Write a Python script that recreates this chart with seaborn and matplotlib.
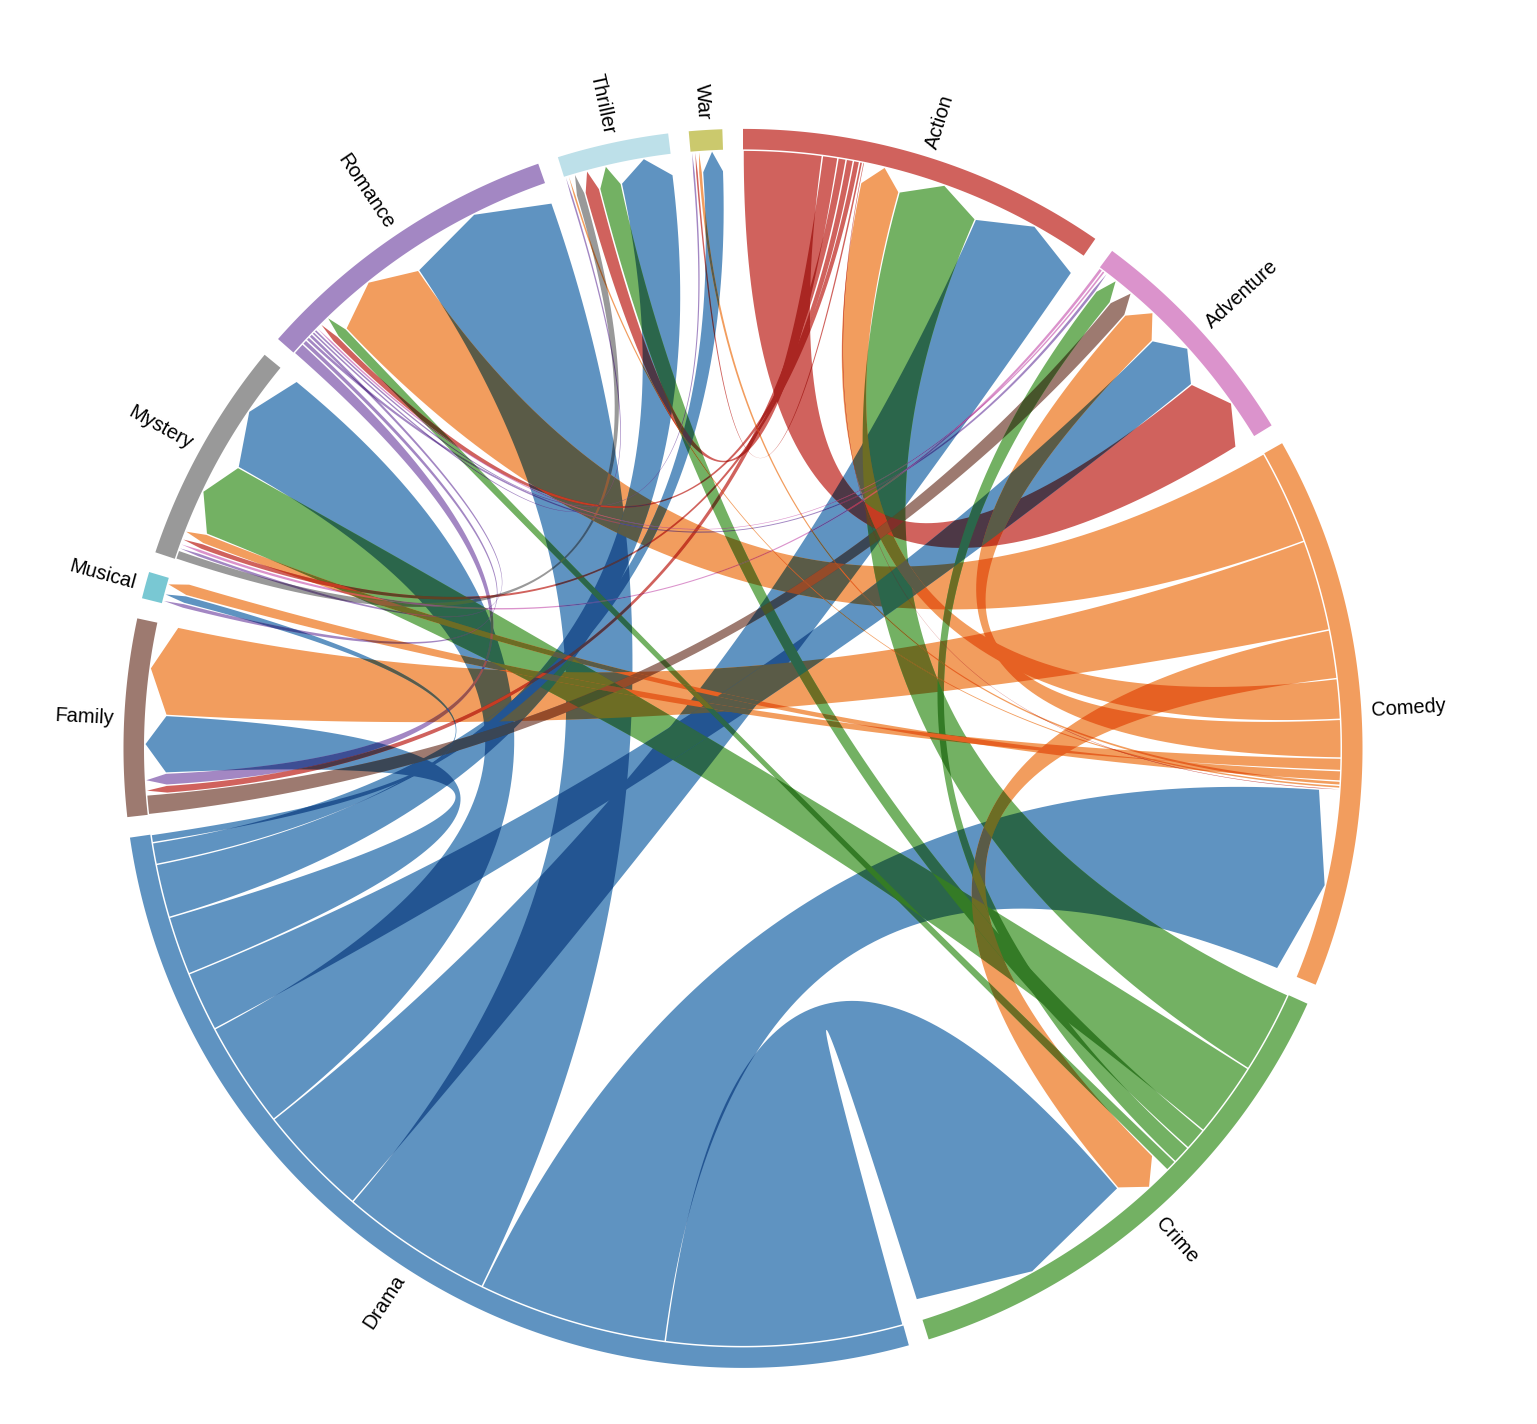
import numpy as np
import pandas as pd
import matplotlib
matplotlib.use("Agg")
import matplotlib.pyplot as plt
import seaborn as sns
from matplotlib.path import Path
from matplotlib.patches import PathPatch

# ---------------- data ----------------
genres = ["Action", "Adventure", "Comedy", "Crime", "Drama", "Family",
          "Musical", "Mystery", "Romance", "Thriller", "War"]
genre_colors = ["#d0625d", "#db93cc", "#f29d5e", "#73b163", "#5f93c1", "#9d7a70",
                "#79c8d3", "#999999", "#a387c3", "#bde0e9", "#cbc96d"]

flow_source = (["Action"] * 7 + ["Adventure"] * 2 + ["Comedy"] * 9 + ["Crime"] * 5
               + ["Drama"] * 10 + ["Family"] + ["Mystery"] + ["Romance"] * 6)
flow_target = ["Adventure", "Thriller", "Family", "Romance", "Mystery", "War", "Comedy",
               "Mystery", "Romance",
               "Romance", "Family", "Crime", "Action", "Adventure", "Musical", "Mystery", "War", "Thriller",
               "Action", "Mystery", "Thriller", "Adventure", "Romance",
               "Crime", "Comedy", "Romance", "Action", "Mystery", "Adventure", "Family", "Thriller", "War", "Musical",
               "Adventure",
               "Thriller",
               "Family", "Musical", "Adventure", "Mystery", "Thriller", "War"]
flow_value = [76, 15, 8, 7, 6, 3, 2,
              4, 3,
              92, 88, 47, 39, 37, 12, 10, 4, 3,
              80, 73, 22, 18, 11,
              229, 183, 148, 109, 103, 58, 57, 52, 21, 8,
              19,
              9,
              12, 5, 4, 4, 3, 3]

# ---------------- style ----------------
sns.set_theme(style="white")
plt.rcParams["font.family"] = ["Liberation Sans", "DejaVu Sans"]
palette = np.array(sns.color_palette(genre_colors))

flows = pd.DataFrame({"source": flow_source, "target": flow_target, "value": flow_value})
matrix = (flows.pivot_table(index="source", columns="target", values="value",
                            aggfunc="sum", fill_value=0)
          .reindex(index=genres, columns=genres, fill_value=0)
          .to_numpy(dtype=float))

n = len(genres)
W, H = 1537, 1424
CX, CY = 743.0, 748.4
R_IN, R_OUT = 599.0, 619.5
R_RIB = 597.5
HEAD = 20.0
PAD = 20.0 / 599.0
RIB_PAD = 1.5 / R_RIB
LABEL_R = R_OUT + 10
FONT_PX = 20

# ---------------- d3.chordDirected layout ----------------
group_sums = matrix.sum(axis=1) + matrix.sum(axis=0)
k = (2 * np.pi - PAD * n) / group_sums.sum()
groups, src_ang, tgt_ang = [], {}, {}
x = 0.0
for i in range(n):
    x0 = x
    sub = [j for j in range(-n, n) if (matrix[~j, i] if j < 0 else matrix[i, j]) > 0]
    sub.sort(key=lambda j: matrix[~j, i] if j < 0 else -matrix[i, j])
    for j in sub:
        if j < 0:
            v = matrix[~j, i]
            tgt_ang[(~j, i)] = (x, x + v * k)
        else:
            v = matrix[i, j]
            src_ang[(i, j)] = (x, x + v * k)
        x += v * k
    groups.append((x0, x))
    x += PAD

chords = sorted(src_ang.keys(), key=lambda st: -matrix[st])


def polar(r, a):
    a = np.atleast_1d(a)
    return np.column_stack([CX + r * np.sin(a), CY - r * np.cos(a)])


def quad(p0, c, p2, m=90):
    t = np.linspace(0, 1, m)[:, None]
    return (1 - t) ** 2 * p0 + 2 * (1 - t) * t * c + t ** 2 * p2


def shrink(a0, a1):
    ap = RIB_PAD / 2
    if a1 - a0 > 2 * ap:
        return a0 + ap, a1 - ap
    mid = (a0 + a1) / 2
    return mid, mid


def ribbon_path(sa0, sa1, ta0, ta1):
    sa0, sa1 = shrink(sa0, sa1)
    ta0, ta1 = shrink(ta0, ta1)
    m = max(2, int((sa1 - sa0) * R_RIB / 2) + 2)
    arc = polar(R_RIB, np.linspace(sa0, sa1, m))
    c = np.array([CX, CY])
    pt0 = polar(R_RIB - HEAD, ta0)[0]
    tip = polar(R_RIB, (ta0 + ta1) / 2)[0]
    pt1 = polar(R_RIB - HEAD, ta1)[0]
    c1 = quad(arc[-1], c, pt0)
    c2 = quad(pt1, c, arc[0])
    verts = np.vstack([arc, c1[1:], tip[None, :], c2[:-1], arc[:1]])
    return Path(verts, closed=True)


def annulus_path(a0, a1):
    a = np.linspace(a0, a1, 240)
    outer = polar(R_OUT, a)
    inner = polar(R_IN, a[::-1])
    verts = np.vstack([outer, inner, outer[:1]])
    return Path(verts, closed=True)


# ---------------- draw ----------------
fig = plt.figure(figsize=(W / 100, H / 100), dpi=100)
ax = fig.add_axes([0, 0, 1, 1])
ax.set_xlim(0, W)
ax.set_ylim(H, 0)
ax.axis("off")

for i, (a0, a1) in enumerate(groups):
    ax.add_patch(PathPatch(annulus_path(a0, a1), facecolor=palette[i], edgecolor="none",
                           linewidth=0, zorder=2))

# ribbons (mix-blend-mode: multiply emulated by drawing pairwise intersections)
rib_paths, rib_cols, rib_patches = [], [], []
for (s, t) in chords:
    sa0, sa1 = src_ang[(s, t)]
    ta0, ta1 = tgt_ang[(s, t)]
    p = ribbon_path(sa0, sa1, ta0, ta1)
    patch = PathPatch(p, facecolor=palette[s], edgecolor="none", linewidth=0, zorder=3)
    ax.add_patch(patch)
    rib_paths.append(p)
    rib_cols.append(palette[s])
    rib_patches.append(patch)

z = 4.0
for a in range(len(rib_paths)):
    for b in range(a + 1, len(rib_paths)):
        if rib_paths[a].intersects_path(rib_paths[b], filled=True):
            over = PathPatch(rib_paths[b], facecolor=rib_cols[a] * rib_cols[b],
                             edgecolor="none", linewidth=0, zorder=z)
            ax.add_patch(over)
            over.set_clip_path(rib_patches[a])
            z += 1e-4

# labels
for i, (a0, a1) in enumerate(groups):
    a = (a0 + a1) / 2
    d = np.array([np.sin(a), -np.cos(a)])
    yax = np.array([np.cos(a), np.sin(a)])
    if a > np.pi:
        yax = -yax
        rot = 270 - np.degrees(a)
        ha = "right"
    else:
        rot = 90 - np.degrees(a)
        ha = "left"
    p = np.array([CX, CY]) + LABEL_R * d + 0.35 * FONT_PX * yax
    ax.text(p[0], p[1], genres[i], rotation=rot, rotation_mode="anchor", ha=ha,
            va="baseline", fontsize=FONT_PX * 0.72, color="black", zorder=10)

fig.savefig("out.png", dpi=100, facecolor="white")
